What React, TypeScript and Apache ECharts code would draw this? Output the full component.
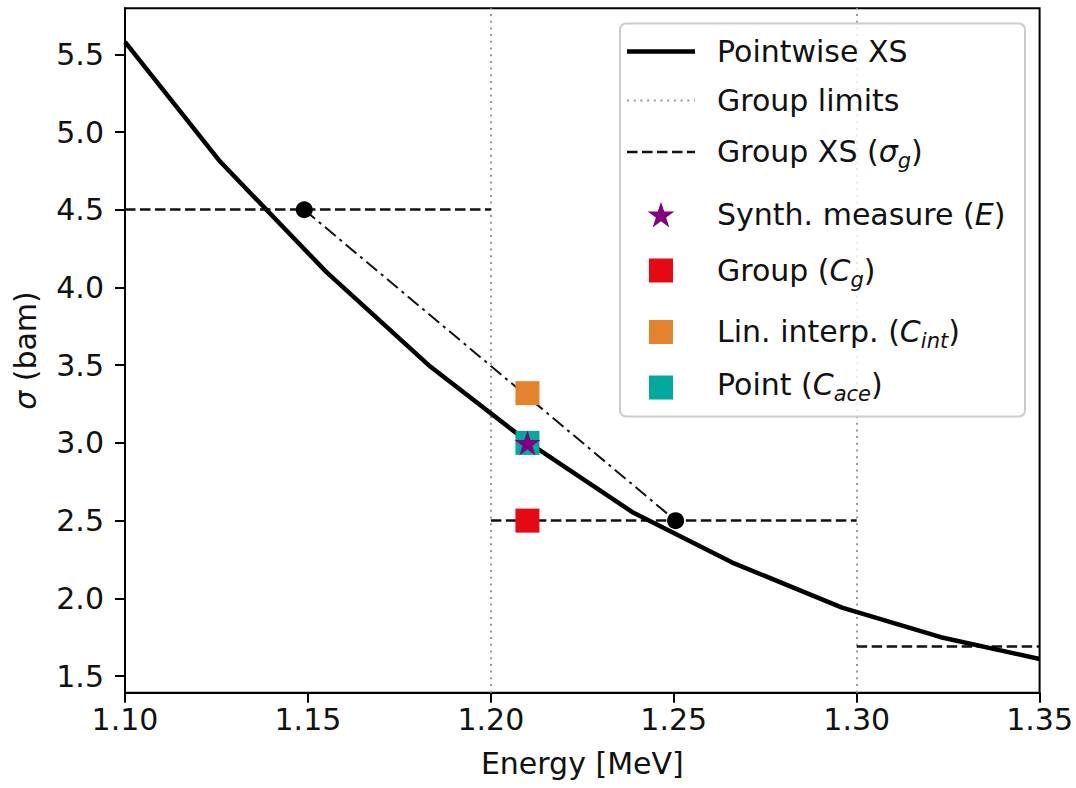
import React, { useEffect, useRef } from "react";
import * as echarts from "echarts";

// ---- axis ranges & ticks ----
const X_MIN = 1.1;
const X_MAX = 1.35;
const Y_MIN = 1.393;
const Y_MAX = 5.796;
const X_TICKS = [1.1, 1.15, 1.2, 1.25, 1.3, 1.35];
const Y_TICKS = [1.5, 2.0, 2.5, 3.0, 3.5, 4.0, 4.5, 5.0, 5.5];

// ---- pointwise cross section ----
const ENERGY = [1.1, 1.126, 1.155, 1.183, 1.211, 1.239, 1.266, 1.296, 1.323, 1.35];
const POINTWISE_XS = [5.58, 4.81, 4.1, 3.5, 2.99, 2.55, 2.23, 1.94, 1.75, 1.61];

// ---- group structure ----
const GROUP_EDGES = [1.1, 1.2, 1.3, 1.35];
const GROUP_XS = [4.5, 2.5, 1.69];
const GROUP_LIMITS = [1.2, 1.3];

// ---- linear interpolation between group midpoints ----
const INTERP_E = [1.149, 1.2505];
const INTERP_XS = [4.5, 2.5];

// ---- measurement point and corrections ----
const MEASURE_E = 1.21;
const SYNTH_MEASURE = 3.0;
const C_GROUP = 2.5;
const C_INT = 3.32;
const C_ACE = 3.0;

const FONT = "DejaVu Sans";
const TXT = "#111";
const FS = 30;

function starPoints(cx: number, cy: number, R: number): number[][] {
  const pts: number[][] = [];
  for (let k = 0; k < 10; k++) {
    const a = -Math.PI / 2 + (k * Math.PI) / 5;
    const r = k % 2 ? R * 0.381966 : R;
    pts.push([cx + r * Math.cos(a), cy + r * Math.sin(a)]);
  }
  return pts;
}
const STAR_PATH =
  "path://" +
  starPoints(50, 50, 50)
    .map((p, i) => (i ? "L" : "M") + p[0].toFixed(3) + " " + p[1].toFixed(3))
    .join(" ") +
  " Z";

const RICH: any = {
  n: { fontSize: FS, fontFamily: FONT, color: TXT, lineHeight: 40, verticalAlign: "middle" },
  i: { fontSize: FS, fontFamily: FONT, fontStyle: "italic", color: TXT, lineHeight: 40, verticalAlign: "middle" },
  s: { fontSize: 21, fontFamily: FONT, fontStyle: "italic", color: TXT, lineHeight: 40, verticalAlign: "bottom" },
};

const LEGEND_LABELS = [
  "{n|Pointwise XS}",
  "{n|Group limits}",
  "{n|Group XS (}{i|σ}{s|g}{n|)}",
  "{n|Synth. measure (}{i|E}{n|)}",
  "{n|Group (}{i|C}{s|g}{n|)}",
  "{n|Lin. interp. (}{i|C}{s|int}{n|)}",
  "{n|Point (}{i|C}{s|ace}{n|)}",
];
const LEGEND_Y = [51.7, 100.8, 151.7, 214, 270, 331, 384];

export default function App() {
  const ref = useRef<HTMLDivElement>(null);
  useEffect(() => {
    document.body.style.margin = "0";
    const chart = echarts.init(ref.current!, null, { renderer: "svg", width: 1076, height: 788 });

    const groupSegs = GROUP_XS.map((v, i) => ({
      coords: [
        [GROUP_EDGES[i], v],
        [GROUP_EDGES[i + 1], v],
      ],
    }));
    const limitSegs = GROUP_LIMITS.map((e) => ({
      coords: [
        [e, Y_MIN],
        [e, Y_MAX],
      ],
    }));

    const hx1 = 627;
    const hx2 = 695;
    const mx = 661;

    const graphic: any[] = [
      {
        type: "rect",
        z: 100,
        shape: { x: 620, y: 23.5, width: 405, height: 393, r: 6 },
        style: { fill: "rgba(255,255,255,0.8)", stroke: "#cccccc", lineWidth: 2 },
      },
      {
        type: "line",
        z: 101,
        shape: { x1: hx1, y1: 51.5, x2: hx2, y2: 51.5 },
        style: { stroke: "#000", lineWidth: 4.5 },
      },
      {
        type: "line",
        z: 101,
        shape: { x1: hx1, y1: 100.5, x2: hx2, y2: 100.5 },
        style: { stroke: "#999", lineWidth: 2, lineDash: [2, 4.7] },
      },
      {
        type: "line",
        z: 101,
        shape: { x1: hx1, y1: 152, x2: hx2, y2: 152 },
        style: { stroke: "#111", lineWidth: 2.5, lineDash: [10.5, 4.5] },
      },
      {
        type: "polygon",
        z: 101,
        shape: { points: starPoints(mx, 215.9, 14.2) },
        style: { fill: "#800080" },
      },
      {
        type: "rect",
        z: 101,
        shape: { x: mx - 12, y: 270.5 - 12, width: 24, height: 24 },
        style: { fill: "#e60914" },
      },
      {
        type: "rect",
        z: 101,
        shape: { x: mx - 12, y: 332 - 12, width: 24, height: 24 },
        style: { fill: "#e3832e" },
      },
      {
        type: "rect",
        z: 101,
        shape: { x: mx - 12, y: 387.5 - 12, width: 24, height: 24 },
        style: { fill: "#00a99d" },
      },
      ...LEGEND_LABELS.map((t, i) => ({
        type: "text",
        z: 101,
        style: {
          text: t,
          x: 717,
          y: LEGEND_Y[i],
          align: "left",
          verticalAlign: "middle",
          rich: RICH,
          fontFamily: FONT,
          fontSize: FS,
          fill: TXT,
        },
      })),
    ];

    chart.setOption({
      animation: false,
      backgroundColor: "#fff",
      textStyle: { fontFamily: FONT },
      grid: {
        left: 125,
        right: 34.5,
        top: 8.3,
        bottom: 95.3,
        show: true,
        borderColor: "#000",
        borderWidth: 2,
        backgroundColor: "transparent",
      },
      xAxis: {
        type: "value",
        min: X_MIN,
        max: X_MAX,
        interval: 0.05,
        name: "Energy [MeV]",
        nameLocation: "middle",
        nameGap: 56,
        nameTextStyle: { fontSize: FS, fontFamily: FONT, color: TXT },
        axisLine: { show: true, lineStyle: { color: "#000", width: 2 } },
        axisTick: { show: true, length: 10, lineStyle: { color: "#000", width: 2 }, customValues: X_TICKS },
        axisLabel: {
          fontSize: FS,
          fontFamily: FONT,
          color: TXT,
          margin: 12,
          customValues: X_TICKS,
          formatter: (v: number) => v.toFixed(2),
        },
        splitLine: { show: false },
      },
      yAxis: {
        type: "value",
        min: Y_MIN,
        max: Y_MAX,
        name: "{i|σ}{n| (bam)}",
        nameLocation: "middle",
        nameRotate: 90,
        nameGap: 80,
        nameTextStyle: { fontSize: FS, fontFamily: FONT, color: TXT, rich: RICH },
        axisLine: { show: true, lineStyle: { color: "#000", width: 2 } },
        axisTick: { show: true, length: 10, lineStyle: { color: "#000", width: 2 }, customValues: Y_TICKS },
        axisLabel: {
          fontSize: FS,
          fontFamily: FONT,
          color: TXT,
          margin: 21,
          customValues: Y_TICKS,
          formatter: (v: number) => v.toFixed(1),
        },
        splitLine: { show: false },
      },
      series: [
        {
          name: "Group limits",
          type: "lines",
          coordinateSystem: "cartesian2d",
          z: 1,
          silent: true,
          lineStyle: { color: "#999", width: 2, type: [2, 4.7], opacity: 1 },
          data: limitSegs,
        },
        {
          name: "Group XS",
          type: "lines",
          coordinateSystem: "cartesian2d",
          z: 2,
          silent: true,
          lineStyle: { color: "#111", width: 2.5, type: [10.5, 4.5], opacity: 1 },
          data: groupSegs,
        },
        {
          name: "Interp",
          type: "line",
          z: 3,
          showSymbol: false,
          silent: true,
          lineStyle: { color: "#111", width: 2, type: [14, 5, 3, 5] },
          data: INTERP_E.map((e, i) => [e, INTERP_XS[i]]),
        },
        {
          name: "Pointwise XS",
          type: "line",
          z: 4,
          showSymbol: false,
          silent: true,
          lineStyle: { color: "#000", width: 4.5 },
          data: ENERGY.map((e, i) => [e, POINTWISE_XS[i]]),
        },
        {
          name: "Midpoints",
          type: "scatter",
          z: 5,
          symbol: "circle",
          symbolSize: 17,
          itemStyle: { color: "#000", opacity: 1 },
          data: INTERP_E.map((e, i) => [e, INTERP_XS[i]]),
        },
        {
          name: "Group (Cg)",
          type: "scatter",
          z: 6,
          symbol: "rect",
          symbolSize: 24,
          itemStyle: { color: "#e60914", opacity: 1 },
          data: [[MEASURE_E, C_GROUP]],
        },
        {
          name: "Lin. interp. (Cint)",
          type: "scatter",
          z: 6,
          symbol: "rect",
          symbolSize: 24,
          itemStyle: { color: "#e3832e", opacity: 1 },
          data: [[MEASURE_E, C_INT]],
        },
        {
          name: "Point (Cace)",
          type: "scatter",
          z: 6,
          symbol: "rect",
          symbolSize: 24,
          itemStyle: { color: "#00a99d", opacity: 1 },
          data: [[MEASURE_E, C_ACE]],
        },
        {
          name: "Synth. measure (E)",
          type: "scatter",
          z: 7,
          symbol: STAR_PATH,
          symbolSize: [26, 25],
          itemStyle: { color: "#800080", opacity: 1 },
          data: [[MEASURE_E, SYNTH_MEASURE]],
        },
      ],
      graphic,
    });
    return () => chart.dispose();
  }, []);
  return <div ref={ref} style={{ width: 1076, height: 788 }} />;
}
